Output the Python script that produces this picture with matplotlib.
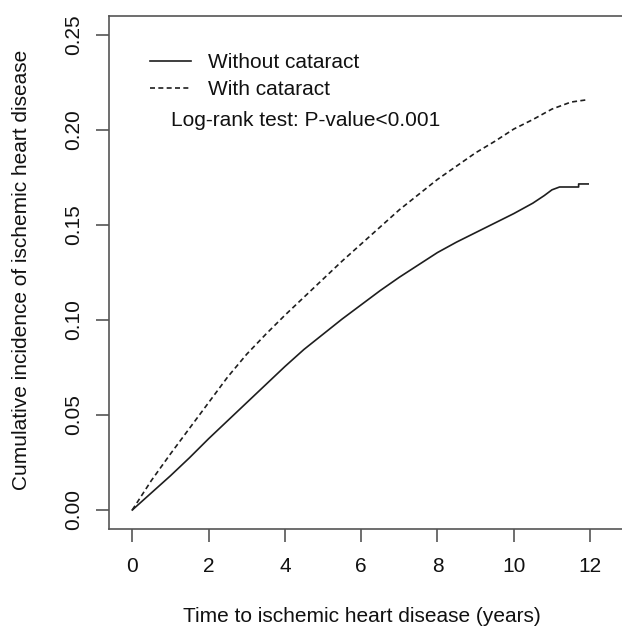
import numpy as np
import matplotlib
matplotlib.use("Agg")
import matplotlib.pyplot as plt

# values
t_without = [0, 0.5, 1, 1.5, 2, 2.5, 3, 3.5, 4, 4.5, 5, 5.5, 6, 6.5, 7, 7.5, 8,
             8.5, 9, 9.5, 10, 10.5, 10.8, 11.0, 11.2, 11.7, 11.7, 11.95]
ci_without = [0, 0.009, 0.018, 0.0275, 0.0375, 0.047, 0.0565, 0.066, 0.0755,
              0.0845, 0.0925, 0.1005, 0.108, 0.1155, 0.1225, 0.129, 0.1355,
              0.141, 0.146, 0.151, 0.156, 0.1615, 0.1655, 0.1685, 0.170,
              0.170, 0.1716, 0.1716]

t_with = [0, 0.5, 1, 1.5, 2, 2.5, 3, 3.5, 4, 4.5, 5, 5.5, 6, 6.5, 7, 7.5, 8,
          8.5, 9, 9.5, 10, 10.5, 11, 11.5, 11.95]
ci_with = [0, 0.0155, 0.0295, 0.043, 0.0565, 0.070, 0.082, 0.0925, 0.1025,
           0.112, 0.1215, 0.131, 0.140, 0.149, 0.158, 0.166, 0.174, 0.181,
           0.188, 0.194, 0.2005, 0.2055, 0.211, 0.2147, 0.216]

xticks = [0, 2, 4, 6, 8, 10, 12]
yticks = [0.00, 0.05, 0.10, 0.15, 0.20, 0.25]
labels = ["Without cataract", "With cataract"]

plt.rcParams['font.family'] = ['Liberation Sans', 'DejaVu Sans']

W, H = 622, 628
fs = 15
fig = plt.figure(figsize=(W / 100, H / 100), dpi=100)
ax = fig.add_axes([109 / W, 1 - 529 / H, (W - 109) / W + 0.01, (529 - 16) / H])

ink = '#1e1e1e'
ax.plot(t_without, ci_without, color=ink, lw=1.2, label=labels[0])
ax.plot(t_with, ci_with, color=ink, lw=1.2, dashes=(3, 2), label=labels[1])

ax.set_xlim(-0.61, 13.0)
ax.set_ylim(-0.01, 0.26)
ax.set_xticks(xticks)
ax.set_xticklabels([str(v) for v in xticks])
ax.set_yticks(yticks)
ax.set_yticklabels(['%.2f' % v for v in yticks], rotation=90, va='center')

frame = '#555555'
for s in ax.spines.values():
    s.set_color(frame)
    s.set_linewidth(1.2)
ax.spines['right'].set_visible(False)
ax.tick_params(length=9.5, width=1.2, color=frame, labelsize=fs,
               labelcolor='#111111')
ax.tick_params(axis='x', pad=11)
ax.tick_params(axis='y', pad=9)

fig.text(22 / W, 1 - 270 / H, "Cumulative incidence of ischemic heart disease",
         rotation=90, ha='center', va='center', fontsize=fs, color='#111111')
fig.text(362 / W, 1 - 617 / H, "Time to ischemic heart disease (years)",
         ha='center', va='center', fontsize=fs, color='#111111')

ax.legend(loc='upper left', bbox_to_anchor=(150 / W, 1 - 53 / H),
          bbox_transform=fig.transFigure, frameon=False, fontsize=fs,
          handlelength=1.95, handletextpad=0.85, labelspacing=0.38,
          borderpad=0, borderaxespad=0, labelcolor='#111111')
fig.text(171 / W, 1 - 121 / H, "Log-rank test: P-value<0.001",
         ha='left', va='center', fontsize=fs, color='#111111')

fig.savefig("out.png", dpi=100)
